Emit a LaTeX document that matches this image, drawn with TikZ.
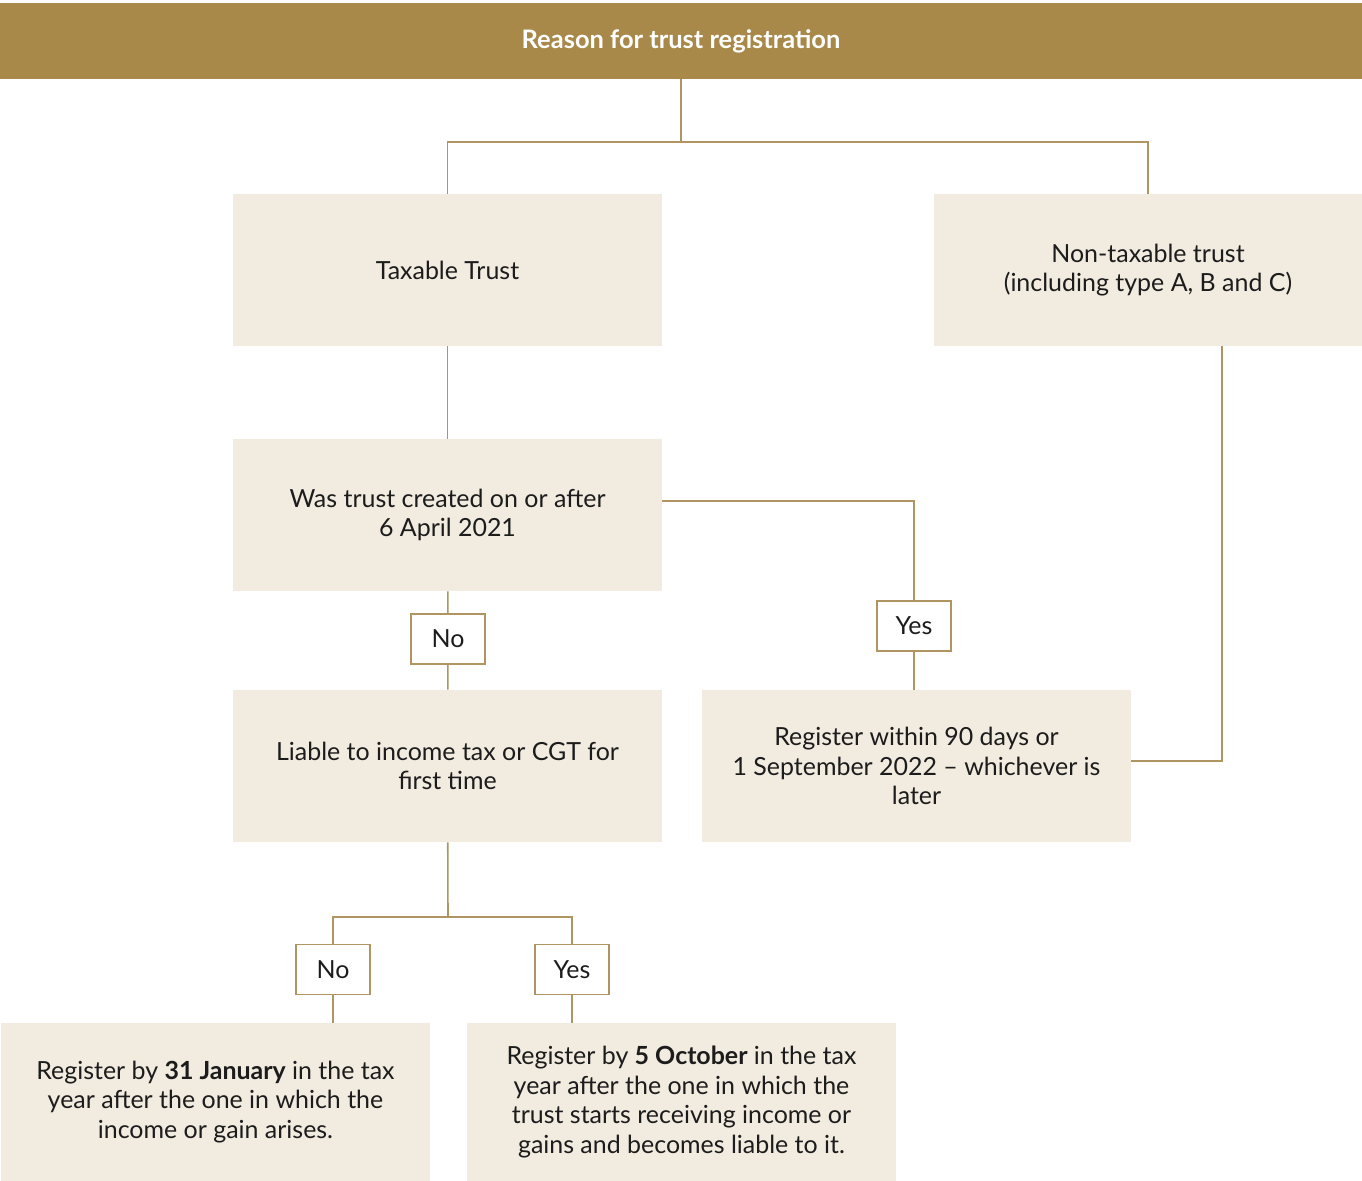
\documentclass[tikz,border=0pt]{standalone}
\usepackage{fontspec}
\setmainfont{Lato}
\usetikzlibrary{positioning,calc}

\definecolor{gold}{HTML}{A8894A}
\definecolor{goldline}{HTML}{B09560}
\definecolor{sand}{HTML}{F1EBE0}
\definecolor{ink}{HTML}{1C1C1C}

\begin{document}
\begin{tikzpicture}[
    x=0.02cm, y=-0.02cm,
    caixa/.style={
        rectangle, fill=sand, align=center, inner sep=0pt,
        minimum width=8.58cm, minimum height=3.04cm,
        font=\fontsize{14.2}{16.8}\selectfont, text=ink
    },
    final/.style={caixa, minimum height=3.16cm},
    topo/.style={
        rectangle, fill=gold, minimum width=27.24cm, minimum height=1.52cm,
        font=\fontsize{14.5}{16.8}\selectfont\bfseries, text=white
    },
    resposta/.style={
        rectangle, draw=goldline, line width=1pt, fill=white,
        minimum width=1.48cm, minimum height=1cm, inner sep=0pt,
        font=\fontsize{14.2}{16.8}\selectfont, text=ink
    },
    ligacao/.style={draw=goldline, line width=0.9pt}
]
\useasboundingbox (0,0) rectangle (1362,1180);

% Nós
\node[topo] (head) at (681,41) {Reason for trust registration};
\node[caixa] (taxable) at (447.5,270) {Taxable Trust};
\node[caixa] (nontax) at (1148,270) {Non-taxable trust\\(including type A, B and C)};
\node[caixa] (created) at (447.5,515) {Was trust created on or after\\6 April 2021};
\node[caixa] (liable) at (447.5,766) {Liable to income tax or CGT for\\first time};
\node[caixa] (within) at (916.5,766) {Register within 90 days or\\1 September 2022 -- whichever is\\later};
\node[final] (january) at (215.5,1102) {Register by \textbf{31 January} in the tax\\year after the one in which the\\income or gain arises.};
\node[final] (october) at (681.5,1102) {Register by \textbf{5 October} in the tax\\year after the one in which the\\trust starts receiving income or\\gains and becomes liable to it.};

\node[resposta] (noA) at (448,639) {No};
\node[resposta] (yesA) at (914,626) {Yes};
\node[resposta] (noB) at (333,969.5) {No};
\node[resposta] (yesB) at (572,969.5) {Yes};

\coordinate (split) at (681,142);
\coordinate (fork) at (448,917);

% Conexões
\draw[ligacao] (head.south) -- (split);
\draw[ligacao] (split) -| (taxable.north);
\draw[ligacao] (split) -| (nontax.north);
\draw[ligacao] (taxable) -- (created);
\draw[ligacao] (created) -- (noA) -- (liable);
\draw[ligacao] ([yshift=0.28cm]created.east) -| (yesA.north);
\draw[ligacao] (yesA) -- (yesA |- within.north);
\draw[ligacao] ([xshift=1.48cm]nontax.south) |- ([yshift=0.1cm]within.east);
\draw[ligacao] (liable) -- (fork);
\draw[ligacao] (fork) -| (noB.north);
\draw[ligacao] (fork) -| (yesB.north);
\draw[ligacao] (noB.south) -- (noB |- january.north);
\draw[ligacao] (yesB.south) -- (yesB |- october.north);

\end{tikzpicture}
\end{document}
